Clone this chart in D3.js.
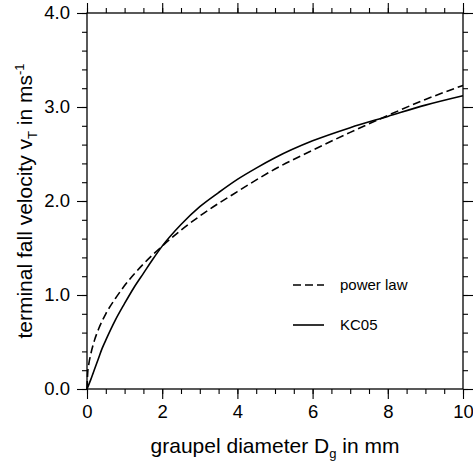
<!DOCTYPE html>
<html><head><meta charset="utf-8">
<script src="https://cdn.jsdelivr.net/npm/d3@7"></script>
<style>body{margin:0;background:#fff}svg{display:block}text{font-family:"Liberation Sans",Arial,Helvetica,sans-serif;fill:#000}</style>
</head><body>
<script>
const xTicks = [0, 2, 4, 6, 8, 10];
const yTicks = [0, 1, 2, 3, 4];
const yTickLabels = ["0.0", "1.0", "2.0", "3.0", "4.0"];
const seriesNames = ["power law", "KC05"];
const powerD = [0, 0.02, 0.05, 0.1, 0.2, 0.3, 0.5, 0.75, 1, 1.5, 2, 2.5, 3, 4, 5, 6, 7, 8, 9, 10];
const powerV = [0, 0.18, 0.27, 0.37, 0.52, 0.63, 0.80, 0.96, 1.10, 1.33, 1.52, 1.69, 1.84, 2.10, 2.34, 2.54, 2.73, 2.91, 3.08, 3.23];
const kcD = [0, 0.1, 0.2, 0.3, 0.4, 0.5, 0.75, 1, 1.25, 1.5, 1.75, 2, 2.5, 3, 3.5, 4, 4.5, 5, 6, 7, 8, 9, 10];
const kcV = [0, 0.10, 0.21, 0.32, 0.43, 0.52, 0.73, 0.91, 1.08, 1.23, 1.38, 1.52, 1.75, 1.94, 2.09, 2.23, 2.35, 2.46, 2.64, 2.78, 2.90, 3.02, 3.12];

const W = 473, H = 462;
const L = 87, R = 463, T = 13, B = 389;
const svg = d3.select("body").append("svg").attr("width", W).attr("height", H);
const x = d3.scaleLinear().domain([0, 10]).range([L, R]);
const y = d3.scaleLinear().domain([0, 4]).range([B, T]);

const xMinor = d3.range(0, 10.001, 0.5);
const yMinor = d3.range(0, 4.001, 0.2);
const lab = (v) => yTickLabels[yTicks.indexOf(v)] ?? "";

svg.append("g").attr("transform", `translate(0,${B})`)
  .call(d3.axisBottom(x).tickValues(xMinor).tickSize(5).tickFormat(""));
svg.append("g").attr("transform", `translate(0,${B})`)
  .call(d3.axisBottom(x).tickValues(xTicks).tickSize(10).tickPadding(6).tickFormat(d3.format("d")));
svg.append("g").attr("transform", `translate(0,${T})`)
  .call(d3.axisTop(x).tickValues(xMinor).tickSize(5).tickFormat(""));
svg.append("g").attr("transform", `translate(0,${T})`)
  .call(d3.axisTop(x).tickValues(xTicks).tickSize(10).tickFormat(""));
svg.append("g").attr("transform", `translate(${L},0)`)
  .call(d3.axisLeft(y).tickValues(yMinor).tickSize(5).tickFormat(""));
svg.append("g").attr("transform", `translate(${L},0)`)
  .call(d3.axisLeft(y).tickValues(yTicks).tickSize(10).tickPadding(7).tickFormat(lab));
svg.append("g").attr("transform", `translate(${R},0)`)
  .call(d3.axisRight(y).tickValues(yMinor).tickSize(5).tickFormat(""));
svg.append("g").attr("transform", `translate(${R},0)`)
  .call(d3.axisRight(y).tickValues(yTicks).tickSize(10).tickFormat(""));

svg.selectAll(".domain").remove();
svg.append("rect").attr("x", L).attr("y", T).attr("width", R - L).attr("height", B - T)
  .attr("fill", "none").attr("stroke", "#000").attr("stroke-width", 1.3);
svg.selectAll(".tick line").attr("stroke", "#000").attr("stroke-width", 1.1);
svg.selectAll(".tick text").style("font-size", "18.5px").attr("fill", "#000");

const line = d3.line().x(d => x(d[0])).y(d => y(d[1])).curve(d3.curveMonotoneX);
svg.append("path").datum(powerD.map((d, i) => [d, powerV[i]]))
  .attr("d", line).attr("fill", "none").attr("stroke", "#000").attr("stroke-width", 1.6)
  .attr("stroke-dasharray", "8,4");
svg.append("path").datum(kcD.map((d, i) => [d, kcV[i]]))
  .attr("d", line).attr("fill", "none").attr("stroke", "#000").attr("stroke-width", 1.6);

const leg = [{name: seriesNames[0], dash: "8,4", yy: 285}, {name: seriesNames[1], dash: null, yy: 325}];
leg.forEach(l => {
  svg.append("line").attr("x1", 293).attr("x2", 324).attr("y1", l.yy).attr("y2", l.yy)
    .attr("stroke", "#000").attr("stroke-width", 1.6).attr("stroke-dasharray", l.dash);
  svg.append("text").attr("x", 340).attr("y", l.yy + 5).style("font-size", "15px").text(l.name);
});

const xt = svg.append("text").attr("x", (L + R) / 2).attr("y", 453).attr("text-anchor", "middle").style("font-size", "21px");
xt.append("tspan").text("graupel diameter D");
xt.append("tspan").attr("dy", 5).style("font-size", "13px").text("g");
xt.append("tspan").attr("dy", -5).text(" in mm");

const yt = svg.append("text").attr("transform", `translate(32,${(T + B) / 2}) rotate(-90)`).attr("text-anchor", "middle").style("font-size", "21px");
yt.append("tspan").text("terminal fall velocity v");
yt.append("tspan").attr("dy", 5).style("font-size", "13px").text("T");
yt.append("tspan").attr("dy", -5).text(" in ms");
yt.append("tspan").attr("dy", -8).style("font-size", "13px").text("-1");
</script>
</body></html>
